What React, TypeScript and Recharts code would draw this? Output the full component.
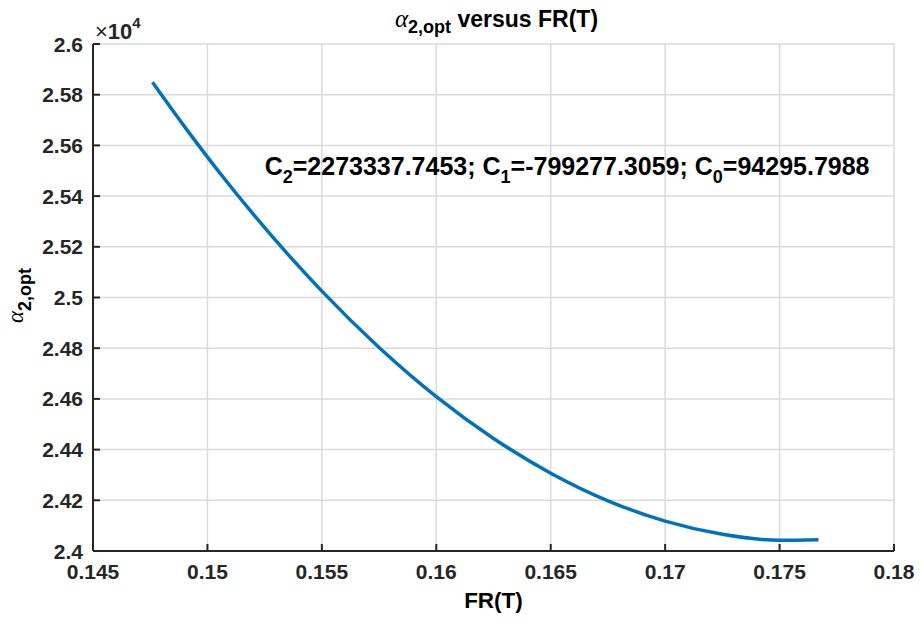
import {
  CartesianGrid,
  Label,
  Line,
  LineChart,
  ReferenceDot,
  XAxis,
  YAxis,
} from "recharts";

// FR(T) values and alpha_{2,opt}
const frValues = [
  0.1476, 0.149, 0.1505, 0.152, 0.1535, 0.155, 0.1575, 0.16, 0.1625, 0.165,
  0.1675, 0.17, 0.1725, 0.175, 0.1767,
];
const alphaValues = [
  25849, 25674, 25496, 25329, 25172, 25025, 24803, 24609, 24444, 24307, 24198,
  24118, 24066, 24042, 24044,
];

const xTicks = [0.145, 0.15, 0.155, 0.16, 0.165, 0.17, 0.175, 0.18];
const yTicks = [
  24000, 24200, 24400, 24600, 24800, 25000, 25200, 25400, 25600, 25800, 26000,
];

const fitText = {
  x: 0.1525,
  y: 25483,
  c2: "2273337.7453",
  c1: "-799277.3059",
  c0: "94295.7988",
};

const AXIS = "#262626";
const FONT = "'Liberation Sans', Arial, Helvetica, sans-serif";
const GREEK = "'Liberation Serif', 'Times New Roman', serif";
const TICK_LEN = 7;

const rows = frValues.map((fr, i) => ({ fr, alpha: alphaValues[i] }));

function BottomTick({ x, y, payload }: any) {
  return (
    <g>
      <line x1={x} x2={x} y1={y} y2={y - TICK_LEN} stroke={AXIS} strokeWidth={2} />
      <text x={x} y={y + 28} textAnchor="middle" fill={AXIS} fontSize={21} fontWeight="bold" fontFamily={FONT}>
        {String(payload.value)}
      </text>
    </g>
  );
}

function TopTick({ x, y }: any) {
  return <line x1={x} x2={x} y1={y} y2={y + TICK_LEN} stroke={AXIS} strokeWidth={2} />;
}

function LeftTick({ x, y, payload }: any) {
  return (
    <g>
      <line x1={x} x2={x + TICK_LEN} y1={y} y2={y} stroke={AXIS} strokeWidth={2} />
      <text x={x - 10} y={y + 7.5} textAnchor="end" fill={AXIS} fontSize={21} fontWeight="bold" fontFamily={FONT}>
        {String(payload.value / 1e4)}
      </text>
    </g>
  );
}

function RightTick({ x, y }: any) {
  return <line x1={x} x2={x - TICK_LEN} y1={y} y2={y} stroke={AXIS} strokeWidth={2} />;
}

function FitAnnotation({ cx, cy }: any) {
  const sub = { fontSize: 18, dy: 8 };
  return (
    <text x={cx} y={cy} fill="#000" fontSize={25} fontWeight="bold" fontFamily={FONT}>
      C<tspan {...sub}>2</tspan>
      <tspan dy={-8}>={fitText.c2}; C</tspan>
      <tspan {...sub}>1</tspan>
      <tspan dy={-8}>={fitText.c1}; C</tspan>
      <tspan {...sub}>0</tspan>
      <tspan dy={-8}>={fitText.c0}</tspan>
    </text>
  );
}

export default function App() {
  return (
    <div style={{ width: 921, height: 619, background: "#fff" }}>
      <style>{"body{margin:0;background:#fff}"}</style>
      <LineChart width={921} height={619} data={rows} margin={{ top: 44, right: 27, bottom: 38, left: 33 }}>
        <CartesianGrid stroke="#dadada" strokeWidth={1.5} horizontalValues={yTicks} verticalValues={xTicks} />
        <XAxis
          dataKey="fr"
          type="number"
          domain={[0.145, 0.18]}
          ticks={xTicks}
          height={30}
          tickSize={0}
          tickMargin={0}
          tickLine={false}
          tick={<BottomTick />}
          axisLine={{ stroke: AXIS, strokeWidth: 2 }}
        >
          <Label
            content={({ viewBox }: any) => (
              <text x={viewBox.x + viewBox.width / 2} y={608} textAnchor="middle" fill="#000" fontSize={22.5} fontWeight="bold" fontFamily={FONT}>
                FR(T)
              </text>
            )}
          />
          <Label
            content={({ viewBox }: any) => (
              <text x={viewBox.x + viewBox.width / 2 + 3} y={27} textAnchor="middle" fill="#000" fontSize={23} fontWeight="bold" fontFamily={FONT}>
                <tspan fontFamily={GREEK} fontStyle="italic" fontWeight="normal" fontSize={25}>α</tspan>
                <tspan dy={6} fontSize={18}>2,opt</tspan>
                <tspan dy={-6}> versus FR(T)</tspan>
              </text>
            )}
          />
        </XAxis>
        <XAxis
          xAxisId="top"
          orientation="top"
          dataKey="fr"
          type="number"
          domain={[0.145, 0.18]}
          ticks={xTicks}
          height={0}
          tickSize={0}
          tickMargin={0}
          tickLine={false}
          tick={<TopTick />}
          axisLine={{ stroke: AXIS, strokeWidth: 2 }}
        />
        <YAxis
          type="number"
          domain={[24000, 26000]}
          ticks={yTicks}
          width={60}
          tickSize={0}
          tickMargin={0}
          tickLine={false}
          tick={<LeftTick />}
          axisLine={{ stroke: AXIS, strokeWidth: 2 }}
        >
          <Label
            content={({ viewBox }: any) => {
              const cx = 23;
              const cy = viewBox.y + viewBox.height / 2 - 2;
              return (
                <text x={cx} y={cy} transform={`rotate(-90, ${cx}, ${cy})`} textAnchor="middle" fill="#000" fontSize={21} fontWeight="bold" fontFamily={FONT}>
                  <tspan fontFamily={GREEK} fontStyle="italic" fontWeight="normal" fontSize={23}>α</tspan>
                  <tspan dy={8} fontSize={18}>2,opt</tspan>
                </text>
              );
            }}
          />
          <Label
            content={({ viewBox }: any) => (
              <text x={viewBox.x + viewBox.width + 2} y={viewBox.y - 5} fill={AXIS} fontSize={22} fontFamily={FONT}>
                <tspan fontWeight="normal">×</tspan>
                <tspan fontWeight="bold">10</tspan>
                <tspan fontWeight="bold" fontSize={15} dy={-11}>4</tspan>
              </text>
            )}
          />
        </YAxis>
        <YAxis
          yAxisId="right"
          orientation="right"
          type="number"
          domain={[24000, 26000]}
          ticks={yTicks}
          width={0}
          tickSize={0}
          tickMargin={0}
          tickLine={false}
          tick={<RightTick />}
          axisLine={{ stroke: AXIS, strokeWidth: 2 }}
        />
        <Line
          type="monotone"
          dataKey="alpha"
          stroke="#0072BD"
          strokeWidth={3.5}
          dot={false}
          isAnimationActive={false}
        />
        <ReferenceDot x={fitText.x} y={fitText.y} r={0} shape={<FitAnnotation />} />
      </LineChart>
    </div>
  );
}
